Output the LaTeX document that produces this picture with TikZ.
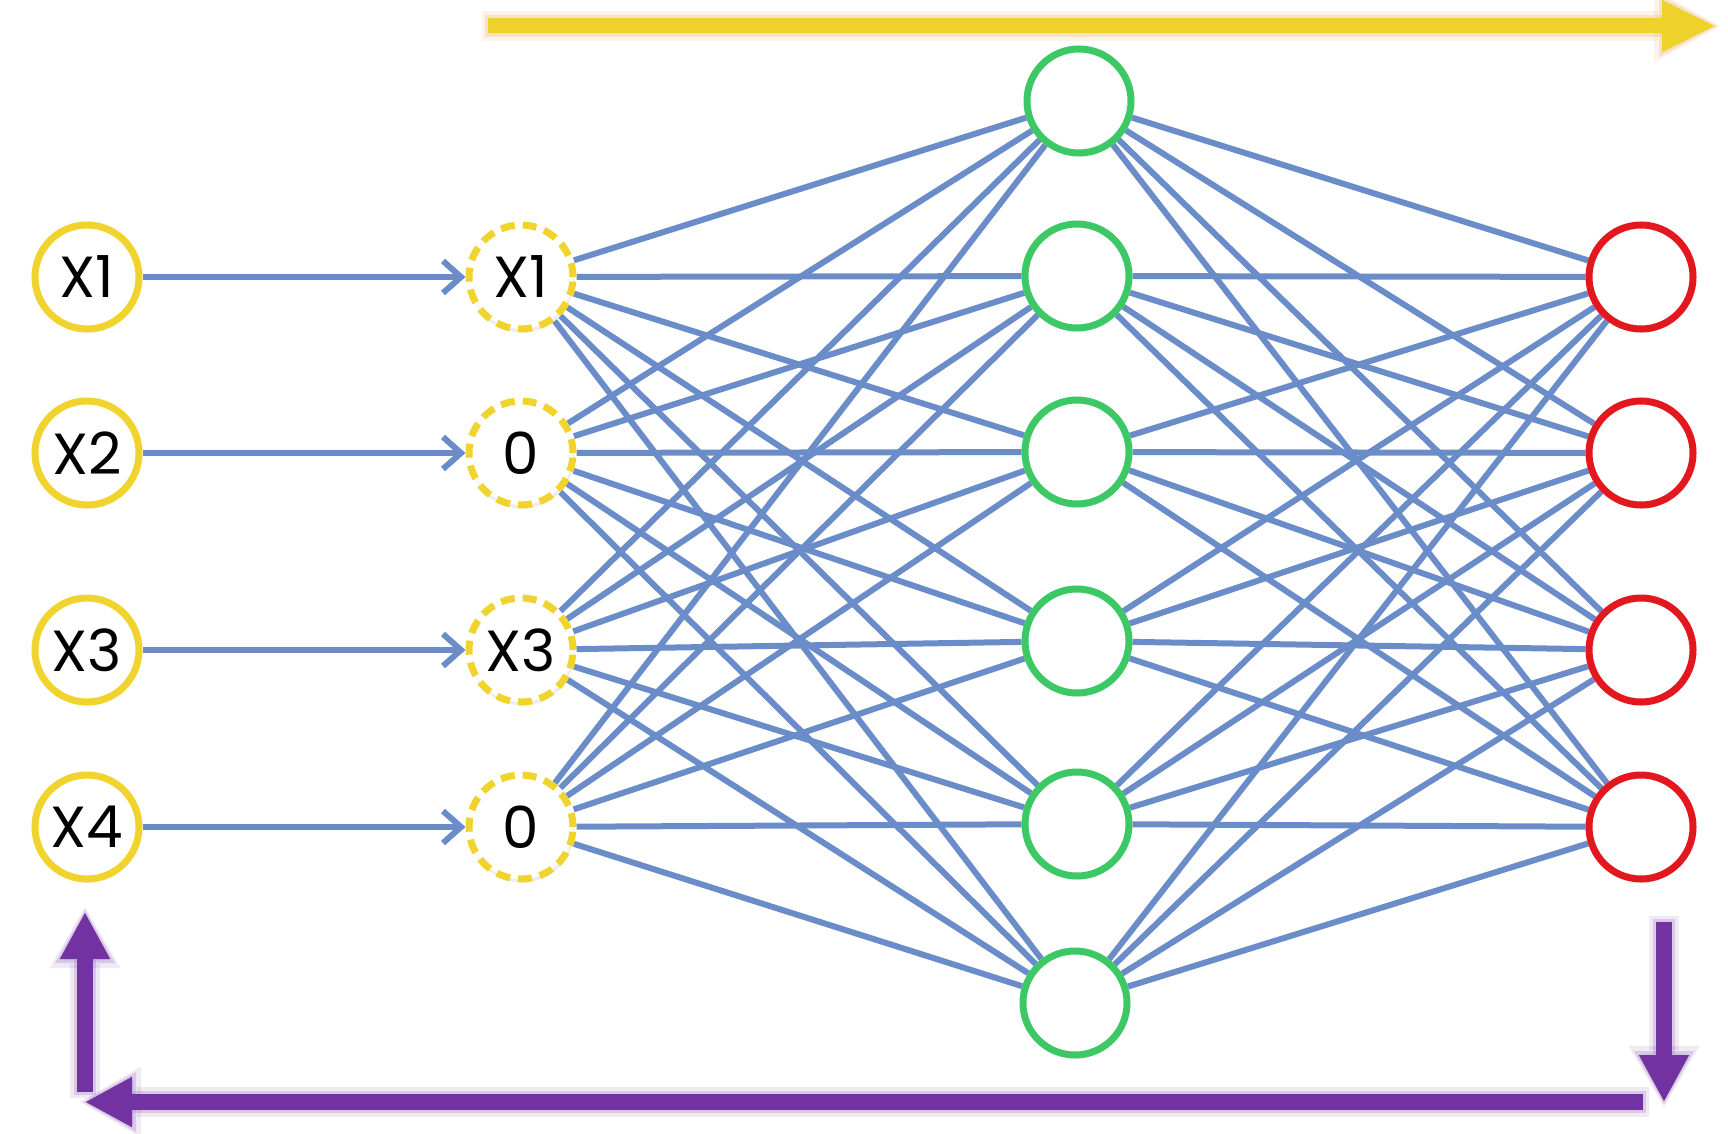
\documentclass[tikz,border=0pt]{standalone}
\usepackage{fontspec}
\setmainfont{Poppins}
\usetikzlibrary{arrows.meta,shadows}

\definecolor{linkblue}{RGB}{106,140,200}
\definecolor{nodeyellow}{RGB}{240,212,45}
\definecolor{hidgreen}{RGB}{60,200,100}
\definecolor{outred}{RGB}{226,24,30}
\definecolor{flowyellow}{RGB}{238,210,42}
\definecolor{flowglow}{RGB}{236,175,115}
\definecolor{backpurple}{RGB}{114,50,162}

\pgfdeclarelayer{bg}
\pgfsetlayers{bg,main}

\begin{document}
\begin{tikzpicture}[x=0.5pt,y=-0.5pt,
  neuron/.style={circle, minimum size=52pt, inner sep=0pt, line width=3.5pt,
    fill=white, font=\fontsize{29}{29}\selectfont,
    drop shadow={shadow xshift=0.6pt, shadow yshift=-1.8pt, opacity=0.14}},
  innode/.style={neuron, draw=nodeyellow},
  dropnode/.style={neuron, draw=nodeyellow, dash pattern=on 7pt off 4pt},
  hidnode/.style={neuron, draw=hidgreen},
  outnode/.style={neuron, draw=outred},
  link/.style={draw=linkblue, line width=3pt},
  feed/.style={link, -{Straight Barb[length=9pt,width=16pt]}},
  flowarrow/.style={draw=flowyellow, line width=7.5pt,
    -{Triangle[length=27pt,width=24pt]},
    preaction={draw=flowglow, opacity=0.14, line width=15pt,
      shorten >=-3pt, shorten <=-3pt, -{Triangle[length=34pt,width=34pt]}},
    preaction={draw=flowglow, opacity=0.25, line width=11pt,
      shorten >=-1.5pt, shorten <=-1.5pt, -{Triangle[length=30pt,width=29pt]}}},
  backarrow/.style={draw=backpurple, line width=7.8pt,
    -{Triangle[length=23.5pt,width=23.5pt]},
    preaction={draw=backpurple, opacity=0.10, line width=15pt,
      shorten >=-3pt, shorten <=-3pt, -{Triangle[length=31pt,width=33pt]}},
    preaction={draw=backpurple, opacity=0.18, line width=11pt,
      shorten >=-1.5pt, shorten <=-1.5pt, -{Triangle[length=27pt,width=28pt]}}},
]
\useasboundingbox (0,0) rectangle (1728,1134);
\begin{pgfonlayer}{bg}
  \fill[white] (0,0) rectangle (1728,1134);
\end{pgfonlayer}

% input layer
\node[innode] (x1) at (87,277) {X1};
\node[innode] (x2) at (87,453) {X2};
\node[innode] (x3) at (87,650) {X3};
\node[innode] (x4) at (87,827) {X4};

% inputs after dropout
\node[dropnode] (d1) at (521,277) {X1};
\node[dropnode] (d2) at (521,453) {0};
\node[dropnode] (d3) at (521,650) {X3};
\node[dropnode] (d4) at (521,827) {0};

% hidden layer
\node[hidnode] (h1) at (1079,101) {};
\node[hidnode] (h2) at (1077,276) {};
\node[hidnode] (h3) at (1077,452) {};
\node[hidnode] (h4) at (1077,641) {};
\node[hidnode] (h5) at (1077,824) {};
\node[hidnode] (h6) at (1075,1003) {};

% output layer
\node[outnode] (o1) at (1641,277) {};
\node[outnode] (o2) at (1641,453) {};
\node[outnode] (o3) at (1641,650) {};
\node[outnode] (o4) at (1641,827) {};

% dropout feed
\foreach \i in {1,...,4}
  \draw[feed] (x\i) -- (d\i);

% dense connections
\begin{pgfonlayer}{bg}
  \foreach \i in {1,...,4}
    \foreach \j in {1,...,6}
      \draw[link] (d\i) -- (h\j);
  \foreach \j in {1,...,6}
    \foreach \k in {1,...,4}
      \draw[link] (h\j) -- (o\k);
\end{pgfonlayer}

% forward pass arrow
\coordinate (fwdstart) at (488,26);
\coordinate (fwdend) at (1716,26);
\draw[flowarrow] (fwdstart) -- (fwdend);

% backward pass arrows
\coordinate (rtop) at (1664,922);
\coordinate (rbot) at (1664,1102);
\coordinate (brun) at (1643,1102);
\coordinate (lbot) at (85,1102);
\coordinate (lstart) at (85,1092);
\coordinate (ltop) at (85,912);
\draw[backarrow] (rtop) -- (rbot);
\draw[backarrow] (brun) -- (lbot);
\draw[backarrow] (lstart) -- (ltop);
\end{tikzpicture}
\end{document}
